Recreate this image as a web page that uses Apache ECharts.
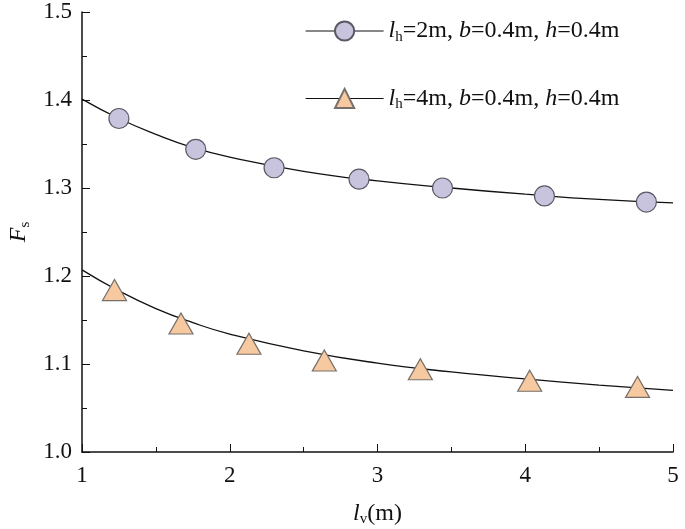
<!DOCTYPE html>
<html>
<head>
<meta charset="utf-8">
<script src="https://cdn.jsdelivr.net/npm/echarts@6/dist/echarts.min.js"></script>
<style>
  html, body { margin: 0; padding: 0; background: #fff; }
  #chart { width: 685px; height: 529px; }
</style>
</head>
<body>
<div id="chart"></div>
<script>
// 数据
const circleX = [1.25, 1.77, 2.30, 2.875, 3.44, 4.13, 4.82];
const circleY = [1.379, 1.344, 1.323, 1.310, 1.300, 1.291, 1.284];
const triX = [1.22, 1.67, 2.13, 2.64, 3.29, 4.03, 4.76];
const triY = [1.184, 1.146, 1.123, 1.104, 1.094, 1.081, 1.074];
// 拟合曲线
const fitX = [1.0, 1.25, 1.5, 1.75, 2.0, 2.5, 3.0, 3.5, 4.0, 4.5, 5.0];
const fitCircle = [1.401, 1.379, 1.361, 1.346, 1.335, 1.319, 1.308, 1.300, 1.293, 1.287, 1.283];
const fitTri = [1.207, 1.183, 1.163, 1.147, 1.134, 1.115, 1.101, 1.091, 1.083, 1.076, 1.070];
const legendNames = ["lh=2m, b=0.4m, h=0.4m", "lh=4m, b=0.4m, h=0.4m"];
const legendRich = [
    "{i|l}{s|h}{n|=2m, }{i|b}{n|=0.4m, }{i|h}{n|=0.4m}",
    "{i|l}{s|h}{n|=4m, }{i|b}{n|=0.4m, }{i|h}{n|=0.4m}"
];

(function () {
    let myChart = echarts.init(document.getElementById("chart"));
    const font = "'Liberation Serif', 'Times New Roman', serif";
    const pairs = (xs, ys) => xs.map((x, i) => [x, ys[i]]);
    const richText = {
        n: { fontFamily: font, fontSize: 24, color: "#111" },
        i: { fontFamily: font, fontSize: 24, fontStyle: "italic", color: "#111" },
        s: { fontFamily: font, fontSize: 15, color: "#111", verticalAlign: "bottom", padding: [12, 0, 0, 0] }
    };
    let option = {
        animation: false,
        grid: { left: 82, right: 12, top: 12, bottom: 77, outerBoundsMode: "none" },
        legend: {
            data: legendNames,
            orient: "vertical",
            left: 300,
            top: 14,
            itemWidth: 78,
            itemHeight: 24,
            itemGap: 42,
            lineStyle: { color: "#111", width: 1.2, opacity: 1 },
            formatter: function (name) {
                return legendRich[legendNames.indexOf(name)];
            },
            textStyle: { rich: richText }
        },
        xAxis: {
            type: "value",
            min: 1,
            max: 5,
            interval: 1,
            axisLine: { lineStyle: { color: "#111", width: 1.5 } },
            axisTick: { inside: true, length: 8, lineStyle: { color: "#111" } },
            minorTick: { show: true, splitNumber: 2, length: 5, lineStyle: { color: "#111" } },
            splitLine: { show: false },
            axisLabel: { fontFamily: font, fontSize: 23, color: "#111", margin: 12 },
            name: "{i|l}{s|v}{n|(m)}",
            nameLocation: "middle",
            nameGap: 48,
            nameTextStyle: { rich: richText }
        },
        yAxis: {
            type: "value",
            min: 1.0,
            max: 1.5,
            interval: 0.1,
            axisLine: { show: true, lineStyle: { color: "#111", width: 1.5 } },
            axisTick: { show: true, inside: true, length: 8, lineStyle: { color: "#111" } },
            minorTick: { show: true, splitNumber: 2, length: 5, lineStyle: { color: "#111" } },
            splitLine: { show: false },
            axisLabel: {
                fontFamily: font, fontSize: 23, color: "#111", margin: 10,
                formatter: v => v.toFixed(1)
            },
            name: "{i|F}{s|s}",
            nameLocation: "middle",
            nameGap: 47,
            nameTextStyle: { rich: richText }
        },
        series: [
            {
                name: "fit1",
                type: "line",
                smooth: true,
                symbol: "none",
                data: pairs(fitX, fitCircle),
                lineStyle: { color: "#111", width: 1.3 },
                z: 1
            },
            {
                name: "fit2",
                type: "line",
                smooth: true,
                symbol: "none",
                data: pairs(fitX, fitTri),
                lineStyle: { color: "#111", width: 1.3 },
                z: 1
            },
            {
                name: legendNames[0],
                type: "line",
                data: pairs(circleX, circleY),
                symbol: "circle",
                symbolSize: 20,
                lineStyle: { opacity: 0, width: 0 },
                itemStyle: { color: "#c8c4de", borderColor: "#5a5a66", borderWidth: 1.2 },
                z: 3
            },
            {
                name: legendNames[1],
                type: "line",
                data: pairs(triX, triY),
                symbol: "triangle",
                symbolSize: [24, 21],
                lineStyle: { opacity: 0, width: 0 },
                itemStyle: { color: "#f6c9a1", borderColor: "#77706a", borderWidth: 1.2 },
                z: 3
            }
        ]
    };
    myChart.setOption(option);
    window.addEventListener("resize", function () {
        myChart.resize();
    });
})();
</script>
</body>
</html>
